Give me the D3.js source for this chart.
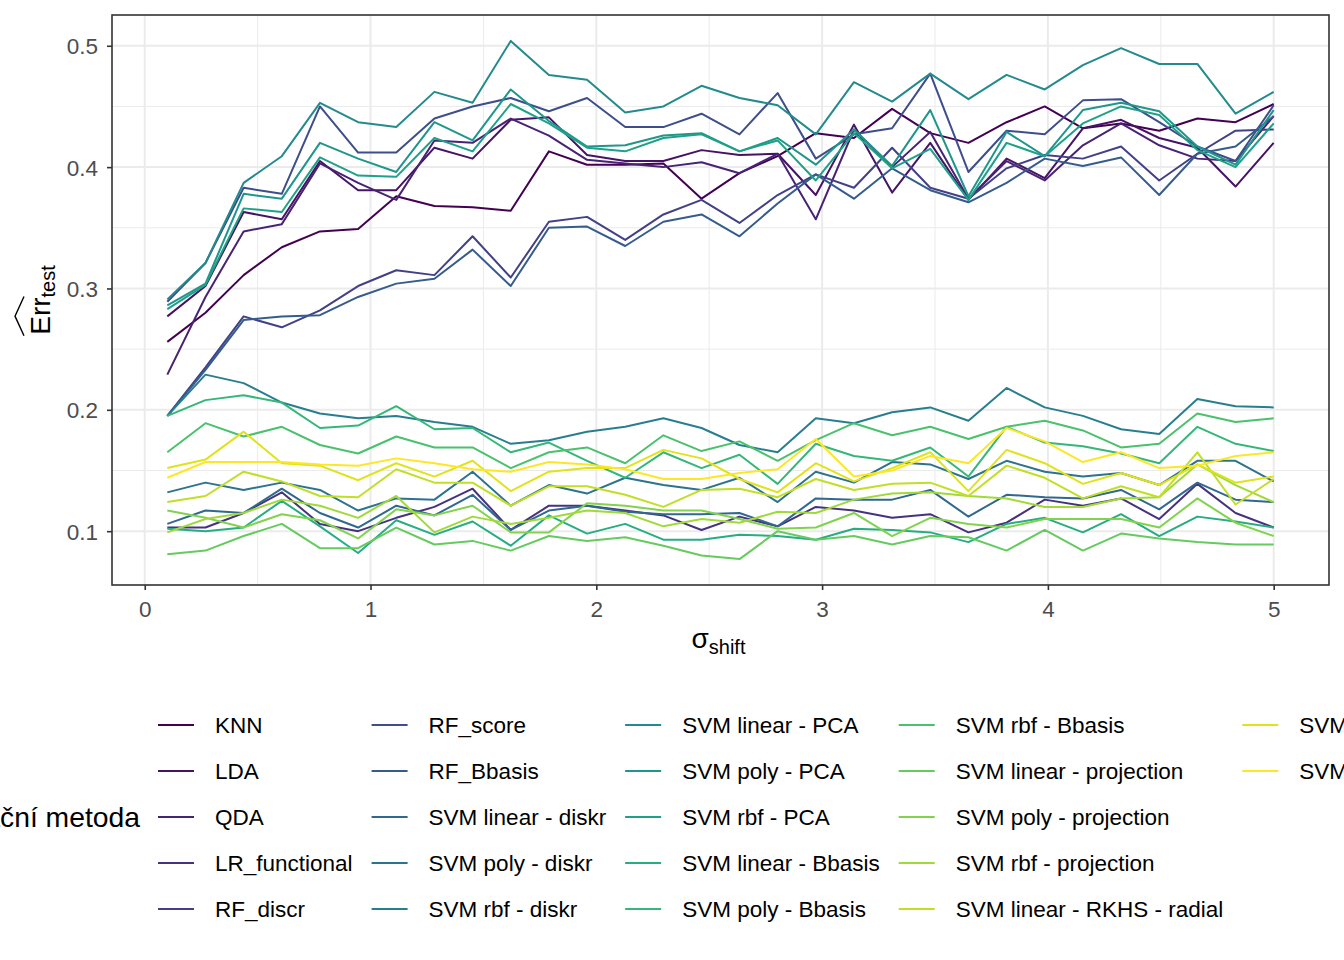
<!DOCTYPE html>
<html>
<head>
<meta charset="utf-8">
<script src="https://cdn.jsdelivr.net/npm/d3@7"></script>
<style>
  body { margin: 0; background: #fff; }
  text { font-family: "Liberation Sans", Arial, sans-serif; }
</style>
</head>
<body>
<svg id="chart" width="1344" height="960"></svg>
<script>
// sigma_shift grid
var sigma = [0.100, 0.269, 0.438, 0.607, 0.776, 0.945, 1.114, 1.283, 1.452, 1.621,
             1.790, 1.959, 2.128, 2.297, 2.466, 2.634, 2.803, 2.972, 3.141, 3.310,
             3.479, 3.648, 3.817, 3.986, 4.155, 4.324, 4.493, 4.662, 4.831, 5.000];

var methods = ["KNN", "LDA", "QDA", "LR_functional", "RF_discr", "RF_score", "RF_Bbasis",
  "SVM linear - diskr", "SVM poly - diskr", "SVM rbf - diskr",
  "SVM linear - PCA", "SVM poly - PCA", "SVM rbf - PCA",
  "SVM linear - Bbasis", "SVM poly - Bbasis", "SVM rbf - Bbasis",
  "SVM linear - projection", "SVM poly - projection", "SVM rbf - projection",
  "SVM linear - RKHS - radial", "SVM poly - RKHS - radial", "SVM rbf - RKHS - radial"];

var knn = [0.256, 0.280, 0.311, 0.334, 0.347, 0.349, 0.376, 0.368, 0.367, 0.364, 0.413, 0.402, 0.402, 0.403, 0.374, 0.395, 0.409, 0.428, 0.424, 0.448, 0.428, 0.420, 0.437, 0.450, 0.432, 0.436, 0.430, 0.440, 0.437, 0.452];
var lda = [0.277, 0.302, 0.363, 0.357, 0.405, 0.381, 0.381, 0.416, 0.407, 0.439, 0.441, 0.410, 0.405, 0.405, 0.414, 0.410, 0.411, 0.377, 0.435, 0.379, 0.420, 0.373, 0.407, 0.391, 0.432, 0.439, 0.424, 0.416, 0.384, 0.420];
var qda = [0.229, 0.293, 0.347, 0.353, 0.403, 0.387, 0.373, 0.422, 0.420, 0.440, 0.426, 0.406, 0.403, 0.400, 0.404, 0.395, 0.411, 0.357, 0.431, 0.400, 0.429, 0.374, 0.405, 0.389, 0.418, 0.436, 0.418, 0.407, 0.405, 0.442];
var lrFunctional = [0.103, 0.103, 0.115, 0.132, 0.106, 0.100, 0.111, 0.120, 0.135, 0.101, 0.121, 0.121, 0.117, 0.113, 0.101, 0.112, 0.104, 0.120, 0.117, 0.111, 0.114, 0.099, 0.107, 0.126, 0.121, 0.127, 0.110, 0.139, 0.115, 0.103];
var rfDiscr = [0.195, 0.235, 0.277, 0.268, 0.282, 0.302, 0.315, 0.311, 0.343, 0.309, 0.355, 0.359, 0.340, 0.361, 0.373, 0.354, 0.377, 0.394, 0.383, 0.416, 0.383, 0.374, 0.399, 0.410, 0.407, 0.417, 0.389, 0.411, 0.430, 0.431];
var rfScore = [0.289, 0.321, 0.383, 0.378, 0.450, 0.412, 0.412, 0.440, 0.450, 0.457, 0.446, 0.457, 0.433, 0.433, 0.444, 0.427, 0.461, 0.407, 0.427, 0.432, 0.477, 0.396, 0.430, 0.427, 0.455, 0.456, 0.437, 0.417, 0.405, 0.451];
var rfBbasis = [0.195, 0.233, 0.274, 0.277, 0.278, 0.293, 0.304, 0.308, 0.332, 0.302, 0.350, 0.351, 0.335, 0.355, 0.361, 0.343, 0.370, 0.394, 0.374, 0.399, 0.381, 0.371, 0.387, 0.407, 0.401, 0.408, 0.377, 0.411, 0.417, 0.442];
var svmLinDiskr = [0.106, 0.117, 0.115, 0.135, 0.115, 0.103, 0.121, 0.113, 0.130, 0.101, 0.117, 0.121, 0.116, 0.114, 0.114, 0.115, 0.104, 0.127, 0.126, 0.126, 0.134, 0.112, 0.130, 0.128, 0.127, 0.134, 0.118, 0.140, 0.126, 0.124];
var svmPolyDiskr = [0.132, 0.140, 0.134, 0.140, 0.134, 0.117, 0.127, 0.126, 0.149, 0.121, 0.138, 0.131, 0.144, 0.138, 0.134, 0.144, 0.124, 0.149, 0.140, 0.157, 0.155, 0.143, 0.158, 0.149, 0.145, 0.148, 0.138, 0.158, 0.158, 0.141];
var svmRbfDiskr = [0.195, 0.229, 0.222, 0.206, 0.197, 0.193, 0.195, 0.190, 0.186, 0.172, 0.175, 0.182, 0.186, 0.193, 0.185, 0.171, 0.165, 0.193, 0.189, 0.198, 0.202, 0.191, 0.218, 0.202, 0.195, 0.184, 0.180, 0.209, 0.203, 0.202];
var svmLinPca = [0.291, 0.321, 0.387, 0.409, 0.453, 0.437, 0.433, 0.462, 0.453, 0.504, 0.476, 0.472, 0.445, 0.450, 0.467, 0.457, 0.451, 0.427, 0.470, 0.454, 0.477, 0.456, 0.476, 0.464, 0.484, 0.498, 0.485, 0.485, 0.444, 0.462];
var svmPolyPca = [0.286, 0.304, 0.378, 0.374, 0.420, 0.407, 0.396, 0.437, 0.422, 0.464, 0.438, 0.417, 0.418, 0.426, 0.428, 0.413, 0.424, 0.402, 0.431, 0.401, 0.447, 0.376, 0.429, 0.409, 0.447, 0.453, 0.446, 0.417, 0.402, 0.447];
var svmRbfPca = [0.283, 0.303, 0.366, 0.363, 0.408, 0.393, 0.392, 0.424, 0.413, 0.452, 0.436, 0.416, 0.413, 0.424, 0.427, 0.413, 0.422, 0.389, 0.428, 0.399, 0.415, 0.373, 0.420, 0.409, 0.436, 0.450, 0.443, 0.414, 0.400, 0.436];
var svmLinBbasis = [0.102, 0.100, 0.103, 0.125, 0.104, 0.082, 0.109, 0.097, 0.108, 0.088, 0.113, 0.098, 0.106, 0.093, 0.093, 0.097, 0.096, 0.093, 0.102, 0.101, 0.099, 0.091, 0.106, 0.111, 0.099, 0.114, 0.096, 0.112, 0.108, 0.103];
var svmPolyBbasis = [0.195, 0.208, 0.212, 0.206, 0.185, 0.187, 0.203, 0.184, 0.185, 0.165, 0.173, 0.158, 0.144, 0.165, 0.152, 0.163, 0.139, 0.172, 0.162, 0.158, 0.169, 0.145, 0.186, 0.173, 0.170, 0.164, 0.156, 0.186, 0.172, 0.166];
var svmRbfBbasis = [0.165, 0.189, 0.178, 0.186, 0.171, 0.164, 0.178, 0.169, 0.169, 0.152, 0.165, 0.169, 0.156, 0.179, 0.166, 0.174, 0.158, 0.175, 0.189, 0.179, 0.186, 0.176, 0.186, 0.191, 0.183, 0.169, 0.172, 0.197, 0.190, 0.193];
var svmLinProj = [0.081, 0.084, 0.096, 0.106, 0.086, 0.086, 0.103, 0.089, 0.092, 0.084, 0.096, 0.092, 0.095, 0.088, 0.080, 0.077, 0.100, 0.093, 0.096, 0.089, 0.096, 0.095, 0.084, 0.101, 0.084, 0.098, 0.094, 0.091, 0.089, 0.089];
var svmPolyProj = [0.117, 0.111, 0.103, 0.114, 0.109, 0.094, 0.118, 0.113, 0.121, 0.099, 0.099, 0.123, 0.121, 0.117, 0.117, 0.110, 0.102, 0.103, 0.115, 0.096, 0.111, 0.106, 0.103, 0.110, 0.110, 0.110, 0.103, 0.127, 0.107, 0.096];
var svmRbfProj = [0.099, 0.110, 0.115, 0.126, 0.121, 0.111, 0.129, 0.099, 0.112, 0.106, 0.111, 0.117, 0.115, 0.104, 0.110, 0.107, 0.116, 0.115, 0.126, 0.131, 0.132, 0.129, 0.127, 0.120, 0.120, 0.127, 0.128, 0.155, 0.138, 0.124];
var svmLinRkhs = [0.124, 0.129, 0.149, 0.141, 0.129, 0.128, 0.151, 0.140, 0.140, 0.121, 0.137, 0.137, 0.130, 0.120, 0.134, 0.135, 0.128, 0.143, 0.134, 0.139, 0.140, 0.129, 0.154, 0.144, 0.127, 0.137, 0.128, 0.165, 0.122, 0.143];
var svmPolyRkhs = [0.152, 0.159, 0.182, 0.156, 0.154, 0.142, 0.156, 0.145, 0.158, 0.133, 0.149, 0.152, 0.152, 0.167, 0.160, 0.143, 0.132, 0.156, 0.141, 0.152, 0.165, 0.133, 0.167, 0.156, 0.139, 0.148, 0.138, 0.155, 0.140, 0.145];
var svmRbfRkhs = [0.144, 0.157, 0.157, 0.157, 0.155, 0.154, 0.160, 0.156, 0.151, 0.149, 0.157, 0.155, 0.151, 0.143, 0.143, 0.148, 0.151, 0.176, 0.145, 0.150, 0.162, 0.156, 0.185, 0.174, 0.157, 0.165, 0.152, 0.154, 0.162, 0.165];

var seriesValues = [knn, lda, qda, lrFunctional, rfDiscr, rfScore, rfBbasis,
  svmLinDiskr, svmPolyDiskr, svmRbfDiskr, svmLinPca, svmPolyPca, svmRbfPca,
  svmLinBbasis, svmPolyBbasis, svmRbfBbasis, svmLinProj, svmPolyProj, svmRbfProj,
  svmLinRkhs, svmPolyRkhs, svmRbfRkhs];

var xTicks = [0, 1, 2, 3, 4, 5];
var yTicks = [0.1, 0.2, 0.3, 0.4, 0.5];

var svg = d3.select("#chart");
var panel = { left: 112, top: 15, right: 1329, bottom: 585 };

// ggplot-like 5% expansion
function expand(ext) { var r = ext[1] - ext[0]; return [ext[0] - 0.05 * r, ext[1] + 0.05 * r]; }
var allY = d3.merge(seriesValues);
var x = d3.scaleLinear().domain(expand(d3.extent(sigma))).range([panel.left, panel.right]);
var y = d3.scaleLinear().domain(expand(d3.extent(allY))).range([panel.bottom, panel.top]);

var color = d3.scaleOrdinal().domain(methods)
  .range(methods.map(function (m, i) { return d3.interpolateViridis(i / (methods.length - 1)); }));

// grid
var grid = svg.append("g");
var xMinor = [-0.5, 0.5, 1.5, 2.5, 3.5, 4.5].filter(function (d) { return x(d) > panel.left; });
var yMinor = [0.05, 0.15, 0.25, 0.35, 0.45].filter(function (d) { return y(d) < panel.bottom; });
grid.selectAll(".xm").data(xMinor).enter().append("line")
  .attr("x1", function (d) { return x(d); }).attr("x2", function (d) { return x(d); })
  .attr("y1", panel.top).attr("y2", panel.bottom)
  .style("stroke", "#ebebeb").style("stroke-width", 1);
grid.selectAll(".ym").data(yMinor).enter().append("line")
  .attr("y1", function (d) { return y(d); }).attr("y2", function (d) { return y(d); })
  .attr("x1", panel.left).attr("x2", panel.right)
  .style("stroke", "#ebebeb").style("stroke-width", 1);
grid.selectAll(".xM").data(xTicks).enter().append("line")
  .attr("x1", function (d) { return x(d); }).attr("x2", function (d) { return x(d); })
  .attr("y1", panel.top).attr("y2", panel.bottom)
  .style("stroke", "#ebebeb").style("stroke-width", 2);
grid.selectAll(".yM").data(yTicks).enter().append("line")
  .attr("y1", function (d) { return y(d); }).attr("y2", function (d) { return y(d); })
  .attr("x1", panel.left).attr("x2", panel.right)
  .style("stroke", "#ebebeb").style("stroke-width", 2);

// lines
var line = d3.line().x(function (d, i) { return x(sigma[i]); }).y(function (d) { return y(d); });
svg.append("g").selectAll("path").data(seriesValues).enter().append("path")
  .attr("d", line)
  .style("fill", "none")
  .style("stroke", function (d, i) { return color(methods[i]); })
  .style("stroke-width", 2)
  .style("stroke-linejoin", "round");

// panel border
svg.append("rect")
  .attr("x", panel.left).attr("y", panel.top)
  .attr("width", panel.right - panel.left).attr("height", panel.bottom - panel.top)
  .style("fill", "none").style("stroke", "#333333").style("stroke-width", 1.6);

// axes
var xAxis = d3.axisBottom(x).tickValues(xTicks).tickSize(5).tickPadding(7).tickFormat(d3.format("d"));
var yAxis = d3.axisLeft(y).tickValues(yTicks).tickSize(5).tickPadding(9).tickFormat(d3.format(".1f"));
var gx = svg.append("g").attr("transform", "translate(0," + panel.bottom + ")").call(xAxis);
var gy = svg.append("g").attr("transform", "translate(" + panel.left + ",0)").call(yAxis);
[gx, gy].forEach(function (g) {
  g.select(".domain").remove();
  g.selectAll(".tick line").style("stroke", "#333333").style("stroke-width", 1.6);
  g.selectAll(".tick text").style("fill", "#4d4d4d").style("font-size", "22.5px")
    .style("font-family", "'Liberation Sans', Arial, sans-serif");
});
gx.selectAll(".tick text").attr("dy", "0.9em");
gy.selectAll(".tick text").attr("dy", "0.36em");

// x title: sigma_shift
var xt = svg.append("text").attr("x", x.range()[0] + (x.range()[1] - x.range()[0]) / 2 - 2).attr("y", 648)
  .attr("text-anchor", "middle").style("font-size", "28px").style("fill", "#000");
xt.append("tspan").text("σ");
xt.append("tspan").attr("dy", 6).style("font-size", "20px").text("shift");

// y title: widehat Err_test
var yg = svg.append("g").attr("transform", "translate(50," + ((panel.top + panel.bottom) / 2) + ") rotate(-90)");
var yt = yg.append("text").attr("x", 0).attr("y", 0).attr("text-anchor", "middle")
  .style("font-size", "28px").style("fill", "#000");
var errSpan = yt.append("tspan").text("Err");
yt.append("tspan").attr("dy", 5).style("font-size", "20px").text("test");
var totalW = yt.node().getComputedTextLength();
var errW = errSpan.node().getComputedTextLength();
var hx0 = -totalW / 2 - 1, hx1 = -totalW / 2 + errW + 1;
yg.append("path")
  .attr("d", "M" + hx0 + "," + (-26) + "L" + ((hx0 + hx1) / 2) + "," + (-35) + "L" + hx1 + "," + (-26))
  .style("fill", "none").style("stroke", "#000").style("stroke-width", 1.4);

// legend
var legend = svg.append("g");
var rows = 5, rowY0 = 725, rowH = 46, keyW = 36, keyGap = 21, colGap = 19;
var colX = 158;
var nCols = Math.ceil(methods.length / rows);
for (var c = 0; c < nCols; c++) {
  var items = methods.slice(c * rows, c * rows + rows);
  var maxW = 0;
  items.forEach(function (m, r) {
    var cy = rowY0 + r * rowH;
    legend.append("line").attr("x1", colX).attr("x2", colX + keyW).attr("y1", cy).attr("y2", cy)
      .style("stroke", color(m)).style("stroke-width", 2);
    var t = legend.append("text").attr("x", colX + keyW + keyGap).attr("y", cy + 8)
      .style("font-size", "22.5px").style("fill", "#000").text(m);
    maxW = Math.max(maxW, t.node().getComputedTextLength());
  });
  colX = colX + keyW + keyGap + maxW + colGap;
}
legend.append("text").attr("x", 140).attr("y", rowY0 + 2 * rowH + 10).attr("text-anchor", "end")
  .style("font-size", "28.3px").style("fill", "#000").text("Klasifikační metoda");
</script>
</body>
</html>
